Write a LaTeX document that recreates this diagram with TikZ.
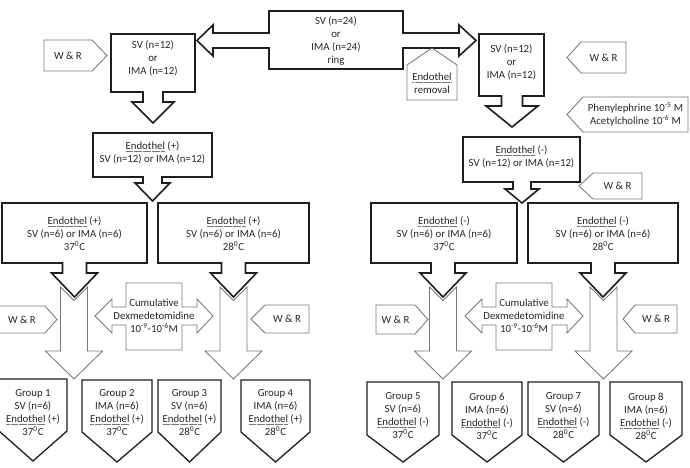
\documentclass[tikz,border=0pt]{standalone}
\usepackage{fontspec}
\setmainfont{Carlito}
\definecolor{ink}{HTML}{1E1E1E}
\definecolor{soft}{HTML}{767676}
\definecolor{txtc}{HTML}{262626}
% dotted grey underline under "Endothel"
\newsavebox\EndoWord
\newcommand\Endo{\sbox\EndoWord{Endothel}\leavevmode\rlap{\raisebox{-0.35ex}{\textcolor{soft}{\hbox to \wd\EndoWord{\xleaders\hbox{\rule{0.6pt}{0.45pt}\kern0.5pt}\hfill}}}}\usebox\EndoWord}
% box with a down arrow: left,right,top,bottom,arrow centre,stem half,head half,head top,tip
\newcommand\dnbox[9]{\draw[mainline] (#1,#3) -- (#2,#3) -- (#2,#4) -- ({#5+#6},#4) -- ({#5+#6},#8) -- ({#5+#7},#8) -- (#5,#9) -- ({#5-#7},#8) -- ({#5-#6},#8) -- ({#5-#6},#4) -- (#1,#4) -- cycle;}
% long grey arrow with notched top: centre
\newcommand\longarrow[1]{\draw[softline] ({#1-13.5},287) -- (#1,300.5) -- ({#1+13.5},287) -- ({#1+13.5},351) -- ({#1+28.5},351) -- (#1,379) -- ({#1-28.5},351) -- ({#1-13.5},351) -- cycle;}
% tag pointing right: left,shoulder,tip,top,bottom
\newcommand\rtag[5]{\draw[softline] (#1,#4) -- (#2,#4) -- (#3,{(#4+#5)/2}) -- (#2,#5) -- (#1,#5) -- cycle;}
% tag pointing left: tip,shoulder,right,top,bottom
\newcommand\ltag[5]{\draw[softline] (#1,{(#4+#5)/2}) -- (#2,#4) -- (#3,#4) -- (#3,#5) -- (#2,#5) -- cycle;}
% group pentagon: left,right,top,shoulder,tip
\newcommand\grp[5]{\draw[grpline] (#1,#3) -- (#2,#3) -- (#2,#4) -- ({(#1+#2)/2},#5) -- (#1,#4) -- cycle;}
\begin{document}
\begin{tikzpicture}[x=1pt,y=-1pt,
  mainline/.style={draw=ink,line width=1.6pt,line join=miter},
  softline/.style={draw=soft,line width=0.85pt,line join=miter},
  grpline/.style={draw=ink,line width=1.3pt,line join=miter},
  txt/.style={font=\fontsize{10.8}{13}\selectfont,align=center,inner sep=0pt,text=txtc}]
\useasboundingbox (0,0) rectangle (690,468);

% ring box with arrows to both sides
\draw[mainline] (269,11) -- (403,11) -- (403,33) -- (459,33) -- (459,25) -- (476,40.5) -- (459,56) -- (459,48) -- (403,48) -- (403,69) -- (269,69) -- (269,48) -- (213,48) -- (213,56) -- (197,40.5) -- (213,25) -- (213,33) -- (269,33) -- cycle;
\node[txt] (ring) at (336,41) {SV (n=24)\\or\\IMA (n=24)\\ring};

% endothelium removal tag
\draw[softline] (407,100) -- (407,65) -- (432,48) -- (457,65) -- (457,100) -- cycle;
\node[txt] (rem) at (432,83) {\Endo\\removal};

% first-level boxes
\dnbox{111}{195}{34}{92}{153}{10}{21}{102}{123}
\node[txt] (svL) at (153,58) {SV (n=12)\\or\\IMA (n=12)};
\dnbox{479}{544}{34}{96}{512}{10.5}{26}{106}{127}
\node[txt] (svR) at (511.5,62) {SV (n=12)\\or\\IMA (n=12)};

\rtag{44}{92}{107}{40}{71}
\node[txt] (wr1) at (68,55.5) {W \& R};
\ltag{567}{581}{626}{42}{73}
\node[txt] (wr2) at (603.5,57.5) {W \& R};

\ltag{567}{583}{688}{97}{132}
\node[txt] (phe) at (635.5,114) {Phenylephrine 10\textsuperscript{-5} M\\Acetylcholine 10\textsuperscript{-6} M};

% endothelium state boxes
\dnbox{93}{212}{133}{177}{152.5}{9.5}{17.5}{183}{201}
\node[txt] (ep) at (152.5,153) {\Endo{} (+)\\SV (n=12) or IMA (n=12)};
\dnbox{463}{580}{137}{182}{522}{9}{17}{189}{203}
\node[txt] (em) at (521.5,156.5) {\Endo{} (-)\\SV (n=12) or IMA (n=12)};

\ltag{579}{593}{642}{173}{199}
\node[txt] (wr3) at (617.5,186) {W \& R};

% temperature boxes
\dnbox{2}{147}{203}{263}{74.5}{12}{23}{273}{297}
\node[txt] (a) at (74.5,233.5) {\Endo{} (+)\\SV (n=6) or IMA (n=6)\\37\textsuperscript{0}C};
\dnbox{158}{309}{203}{263}{233.5}{12}{23}{273}{297}
\node[txt] (b) at (233.5,233.5) {\Endo{} (+)\\SV (n=6) or IMA (n=6)\\28\textsuperscript{0}C};
\dnbox{371}{517}{203}{263}{443}{12}{23}{273}{297}
\node[txt] (c) at (444,233.5) {\Endo{} (-)\\SV (n=6) or IMA (n=6)\\37\textsuperscript{0}C};
\dnbox{528}{678}{203}{263}{603}{12}{23}{273}{297}
\node[txt] (d) at (603,233.5) {\Endo{} (-)\\SV (n=6) or IMA (n=6)\\28\textsuperscript{0}C};

% long grey arrows
\longarrow{74}
\longarrow{233.5}
\longarrow{443}
\longarrow{603.5}

% washing tags beside the long arrows
\rtag{-1}{45}{57}{306}{333}
\node[txt] (wr4) at (22,319.5) {W \& R};
\ltag{251}{265}{309}{305}{333}
\node[txt] (wr5) at (287,319) {W \& R};
\rtag{376}{415}{428}{305}{334}
\node[txt] (wr6) at (395.5,319.5) {W \& R};
\ltag{623}{635}{677}{305}{333}
\node[txt] (wr7) at (656,319) {W \& R};

% cumulative dexmedetomidine double arrows
\foreach \dx/\nm in {0/cumL,370/cumR}{
\begin{scope}[shift={(\dx,0)}]
\draw[softline] (126,283) -- (182,283) -- (182,307) -- (197,307) -- (197,299) -- (213,316) -- (197,333) -- (197,325) -- (182,325) -- (182,350) -- (126,350) -- (126,325) -- (112,325) -- (112,333) -- (95,316) -- (112,299) -- (112,307) -- (126,307) -- cycle;
\node[txt] (\nm) at (154,316) {Cumulative\\Dexmedetomidine\\10\textsuperscript{-9}-10\textsuperscript{-6}M};
\end{scope}}

% groups
\grp{-1}{67}{379}{431}{461}
\node[txt] (g1) at (33,412.5) {Group 1\\SV (n=6)\\\Endo{} (+)\\37\textsuperscript{0}C};
\grp{82}{152}{380}{432}{462}
\node[txt] (g2) at (117,412.5) {Group 2\\IMA (n=6)\\\Endo{} (+)\\37\textsuperscript{0}C};
\grp{158}{221}{380}{432}{462}
\node[txt] (g3) at (189.5,412.5) {Group 3\\SV (n=6)\\\Endo{} (+)\\28\textsuperscript{0}C};
\grp{241}{310}{380}{432}{462}
\node[txt] (g4) at (275.5,412.5) {Group 4\\IMA (n=6)\\\Endo{} (+)\\28\textsuperscript{0}C};
\grp{367}{439}{382}{435}{462}
\node[txt] (g5) at (403,416) {Group 5\\SV (n=6)\\\Endo{} (-)\\37\textsuperscript{0}C};
\grp{452}{522}{382}{435}{462}
\node[txt] (g6) at (487,416) {Group 6\\IMA (n=6)\\\Endo{} (-)\\37\textsuperscript{0}C};
\grp{528}{599}{382}{435}{462}
\node[txt] (g7) at (563.5,416) {Group 7\\SV (n=6)\\\Endo{} (-)\\28\textsuperscript{0}C};
\grp{610}{682}{382}{435}{462}
\node[txt] (g8) at (646,416) {Group 8\\IMA (n=6)\\\Endo{} (-)\\28\textsuperscript{0}C};
\end{tikzpicture}
\end{document}
